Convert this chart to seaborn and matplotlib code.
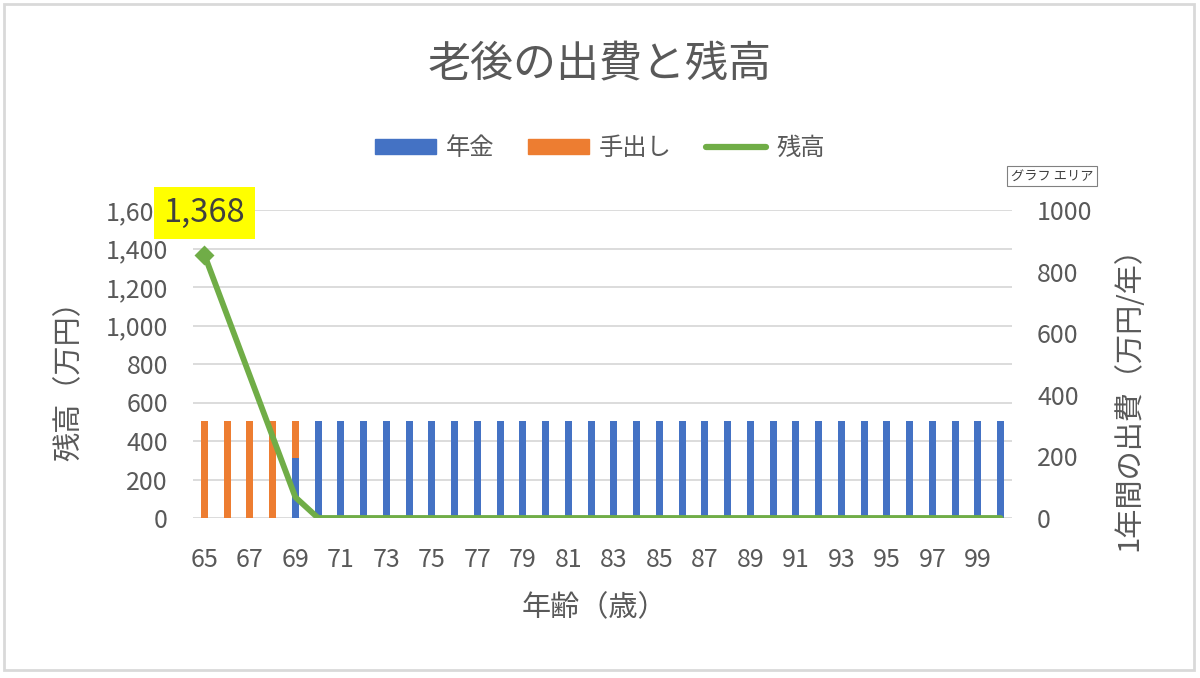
import numpy as np
import pandas as pd
import matplotlib
matplotlib.use("Agg")
import matplotlib.pyplot as plt
from matplotlib.patches import Patch, Rectangle
from matplotlib.lines import Line2D
from matplotlib.ticker import FuncFormatter
import seaborn as sns

# data (万円)
ages = list(range(65, 101))
pension = [0, 0, 0, 0, 195,
           315, 315, 315, 315, 315, 315, 315, 315, 315, 315,
           315, 315, 315, 315, 315, 315, 315, 315, 315, 315,
           315, 315, 315, 315, 315, 315, 315, 315, 315, 315, 315]
own_money = [315, 315, 315, 315, 120,
             0, 0, 0, 0, 0, 0, 0, 0, 0, 0,
             0, 0, 0, 0, 0, 0, 0, 0, 0, 0,
             0, 0, 0, 0, 0, 0, 0, 0, 0, 0, 0]
balance = [1368, 1053, 738, 423, 108,
           0, 0, 0, 0, 0, 0, 0, 0, 0, 0,
           0, 0, 0, 0, 0, 0, 0, 0, 0, 0,
           0, 0, 0, 0, 0, 0, 0, 0, 0, 0, 0]

BLUE = "#4472C4"
ORANGE = "#ED7D31"
GREEN = "#70AD47"
TEXT = "#595959"
GRID = "#D9D9D9"

sns.set_theme(style="white")
plt.rcParams["font.family"] = ["Noto Sans CJK JP", "DejaVu Sans"]

df = pd.DataFrame({
    "年齢": [str(a) for a in ages],
    "年金": pension,
    "手出し": own_money,
    "残高": balance,
})
df["出費"] = df["年金"] + df["手出し"]
order = list(df["年齢"])

fig = plt.figure(figsize=(12, 6.78), dpi=100)
ax = fig.add_axes([193 / 1200, 160 / 678, 819 / 1200, 308 / 678])
ax2 = ax.twinx()

# stacked bars (right axis): total in orange, pension in blue on top of it
sns.barplot(data=df, x="年齢", y="出費", order=order, color=ORANGE,
            saturation=1, width=0.31, linewidth=0, ax=ax)
sns.barplot(data=df, x="年齢", y="年金", order=order, color=BLUE,
            saturation=1, width=0.31, linewidth=0, ax=ax)

# balance line (left axis)
sns.pointplot(data=df, x="年齢", y="残高", order=order, color=GREEN,
              errorbar=None, markers="", linewidth=4.2, ax=ax2)
sns.pointplot(data=df.iloc[:1], x="年齢", y="残高", order=order, color=GREEN,
              errorbar=None, markers="D", markersize=8, linestyles="none", ax=ax2)

ax.set_ylim(0, 1000)
ax.set_yticks(np.arange(0, 1001, 200))
ax.set_yticks(np.linspace(0, 1000, 9), minor=True)
ax.yaxis.remove_overlapping_locs = False
ax.grid(False)
ax.grid(True, which="minor", axis="y", color=GRID, linewidth=1.3)
ax.yaxis.tick_right()
ax.yaxis.set_label_position("right")
ax.set_xlim(-0.5, len(ages) - 0.5)
ax.set_xticks(range(0, len(ages) - 1, 2))
ax.set_xticklabels(order[0:len(ages) - 1:2])

ax2.set_ylim(0, 1600)
ax2.set_yticks(np.arange(0, 1601, 200))
ax2.yaxis.set_major_formatter(FuncFormatter(lambda v, _: f"{int(v):,}"))
ax2.yaxis.tick_left()
ax2.yaxis.set_label_position("left")
ax2.grid(False)

for a in (ax, ax2):
    for s in a.spines.values():
        s.set_visible(False)
    a.tick_params(which="both", length=0, labelsize=18, colors=TEXT)
ax.tick_params(axis="x", pad=21)
ax.tick_params(axis="y", pad=18)
ax2.tick_params(axis="y", pad=18)

ax.set_xlabel("年齢（歳）", fontsize=21, color=TEXT)
ax.xaxis.set_label_coords(0.49, -0.245)
ax.set_ylabel("1年間の出費（万円/年）", fontsize=21, color=TEXT, rotation=90)
ax.yaxis.set_label_coords(1.125, 0.41)
ax2.set_ylabel("残高（万円）", fontsize=21, color=TEXT, rotation=90)
ax2.yaxis.set_label_coords(-0.133, 0.47)

# data label of the first balance point
ax2.annotate(f"{balance[0]:,}", xy=(0, balance[0]), xytext=(0, 30),
             textcoords="offset points", ha="center", va="center",
             fontsize=23.5, color="#404040",
             bbox=dict(boxstyle="square,pad=0.3", facecolor="#FFFF00", edgecolor="none"))

fig.text(0.5, 0.904, "老後の出費と残高", ha="center", va="center",
         fontsize=31, color=TEXT)

handles = [Patch(color=BLUE), Patch(color=ORANGE),
           Line2D([0], [0], color=GREEN, linewidth=4.5, solid_capstyle="round")]
leg = fig.legend(handles, ["年金", "手出し", "残高"], loc="center",
                 bbox_to_anchor=(0.5, 0.782), ncol=3, frameon=False, fontsize=17.5,
                 handlelength=2.5, handleheight=0.6, handletextpad=0.4,
                 columnspacing=1.4)
for t in leg.get_texts():
    t.set_color(TEXT)

# Excel tooltip
fig.text(1052 / 1200, 1 - 176 / 678, "グラフ エリア", ha="center", va="center",
         fontsize=9.5, color="#404040",
         bbox=dict(boxstyle="square,pad=0.3", facecolor="white", edgecolor="#808080",
                   linewidth=0.8))

# chart area frame
fig.patches.append(Rectangle((4 / 1200, 8 / 678), 1190 / 1200, 666 / 678,
                             transform=fig.transFigure, fill=False,
                             edgecolor=GRID, linewidth=2))

fig.savefig("out.png", dpi=100)
